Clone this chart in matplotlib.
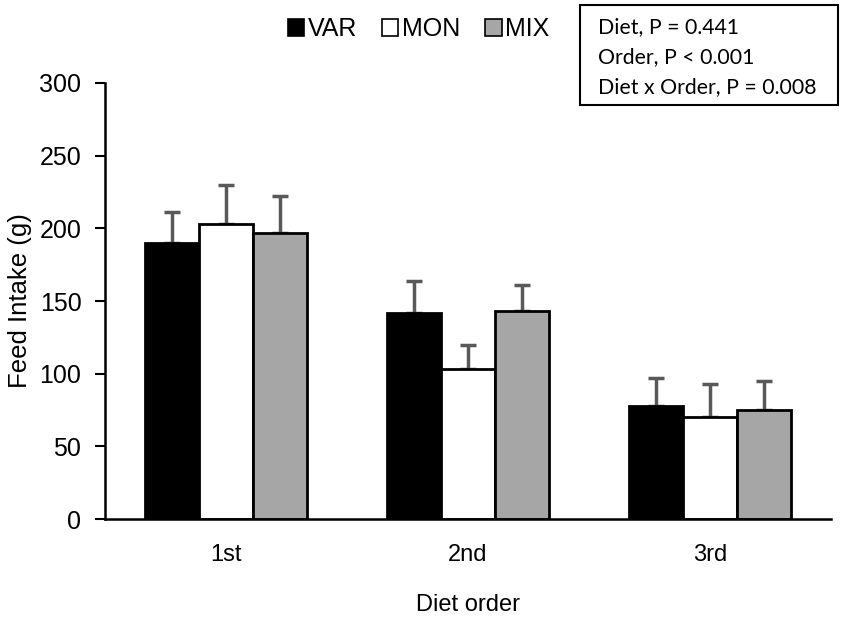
import numpy as np
import matplotlib
matplotlib.use('Agg')
import matplotlib.pyplot as plt
from matplotlib.patches import Rectangle

# Data
orders = ['1st', '2nd', '3rd']
diets = ['VAR', 'MON', 'MIX']
var_mean = [190, 142, 78]
mon_mean = [203, 103, 70]
mix_mean = [197, 143, 75]
var_se = [21, 22, 19]
mon_se = [27, 17, 23]
mix_se = [25, 18, 20]
stats_lines = ['Diet, P = 0.441', 'Order, P < 0.001', 'Diet x Order, P = 0.008']

means = [var_mean, mon_mean, mix_mean]
errs = [var_se, mon_se, mix_se]
colors = ['#000000', '#FFFFFF', '#A6A6A6']

plt.rcParams['font.family'] = 'Liberation Sans'

W, H = 851, 617
fig = plt.figure(figsize=(W / 100, H / 100), dpi=100)
ax = fig.add_axes([0.1234, 0.1588, 0.8531, 0.7067])

x = np.arange(len(orders))
w = 0.223
for i, (m, e, c) in enumerate(zip(means, errs, colors)):
    pos = x + (i - 1) * w
    ax.bar(pos, m, width=w, color=c, edgecolor='black', linewidth=2,
           label=diets[i], zorder=2)
    ax.errorbar(pos, m, yerr=[np.zeros(len(m)), e], fmt='none',
                ecolor='#595959', elinewidth=2.5, capsize=6, capthick=2.5,
                zorder=1)

ax.set_xlim(-0.5, 2.5)
ax.set_ylim(0, 300)
ax.set_yticks(range(0, 301, 50))
ax.set_xticks(x)
ax.set_xticklabels(orders)
ax.tick_params(axis='y', labelsize=18, length=7, width=1.5, direction='out', pad=10)
ax.tick_params(axis='x', labelsize=17, length=0, pad=18)
for s in ['top', 'right']:
    ax.spines[s].set_visible(False)
for s in ['left', 'bottom']:
    ax.spines[s].set_linewidth(1.8)

ax.set_ylabel('Feed Intake (g)', fontsize=18.5, labelpad=5)
ax.set_xlabel('Diet order', fontsize=17, labelpad=20)

leg = fig.legend(loc='center', bbox_to_anchor=(0.492, 0.953), ncol=3,
                 frameon=False, fontsize=18, handlelength=0.65,
                 handleheight=0.65, handletextpad=0.15, columnspacing=1.0)
for h in leg.legend_handles:
    h.set_linewidth(1.2)

# statistics box
fig.patches.append(Rectangle((580 / W, 1 - 105 / H), 258 / W, 100 / H,
                             transform=fig.transFigure, facecolor='white',
                             edgecolor='black', linewidth=1.5))
for k, line in enumerate(stats_lines):
    fig.text(598 / W, 1 - (27 + 30 * k) / H, line, fontsize=15.3,
             family=['Lato', 'DejaVu Sans'], va='center', ha='left')

fig.savefig('out.png', dpi=100, facecolor='white')
